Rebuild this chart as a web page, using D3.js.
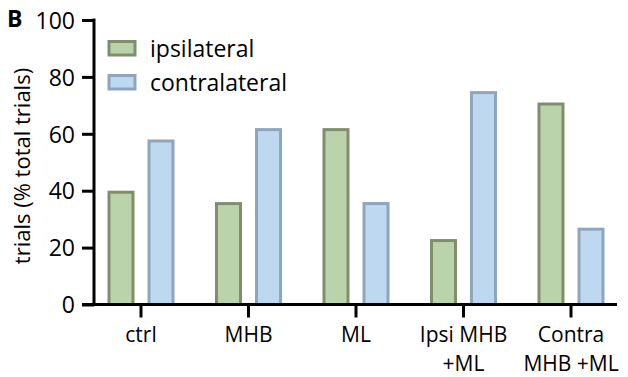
<!DOCTYPE html>
<html>
<head>
<meta charset="utf-8">
<script src="https://d3js.org/d3.v7.min.js"></script>
<style>
  body { margin: 0; background: #fff; }
  svg text { font-family: "Open Sans", sans-serif; fill: #000; }
</style>
</head>
<body>
<div id="chart"></div>
<script>
// data
var categories = ["ctrl", "MHB", "ML", "Ipsi MHB\n+ML", "Contra\nMHB +ML"];
var ipsilateral = [40, 36, 62, 23, 71];
var contralateral = [58, 62, 36, 75, 27];
var seriesNames = ["ipsilateral", "contralateral"];
var yTicks = [0, 20, 40, 60, 80, 100];

var width = 628, height = 377;
var fontSize = "23px";
var fills = ["#bad3aa", "#bed8ef"];
var strokes = ["#7f8f6e", "#8ea5bf"];

var svg = d3.select("#chart").append("svg")
	.attr("width", width)
	.attr("height", height);

var x = d3.scaleBand().domain(categories).range([87.25, 624.75]);
var sub = d3.scaleBand().domain(seriesNames).range([0, x.bandwidth()]).paddingInner(0.325).paddingOuter(0.506);
var y = d3.scaleLinear().domain([0, 100]).range([304.5, 20]);

var rows = categories.map(function(c, i){
	return {cat: c, vals: [ipsilateral[i], contralateral[i]]};
});

// bars
var groups = svg.selectAll(".grp").data(rows).enter()
	.append("g")
	.attr("class", "grp")
	.attr("transform", function(d){ return "translate(" + x(d.cat) + ",0)"; });

groups.selectAll("rect")
	.data(function(d){ return d.vals.map(function(v, j){ return {name: seriesNames[j], v: v, j: j}; }); })
	.enter().append("rect")
	.attr("x", function(d){ return sub(d.name) + 1.5; })
	.attr("width", sub.bandwidth() - 3)
	.attr("y", function(d){ return y(d.v) + 1.5; })
	.attr("height", function(d){ return y(0) - y(d.v) - 1.5; })
	.style("fill", function(d){ return fills[d.j]; })
	.style("stroke", function(d){ return strokes[d.j]; })
	.style("stroke-width", 3);

// y axis
var yAxis = svg.append("g")
	.attr("transform", "translate(94,0)")
	.call(d3.axisLeft(y).tickValues(yTicks).tickSize(12).tickPadding(7));
yAxis.select(".domain").attr("d", "M0," + (y(100) - 1.5) + "V" + y(0)).style("stroke-width", 3);
yAxis.selectAll(".tick line").style("stroke-width", 3);
yAxis.selectAll(".tick text").style("font-size", fontSize).attr("dy", "0.36em");

// x axis
var xAxis = svg.append("g")
	.attr("transform", "translate(0," + y(0) + ")")
	.call(d3.axisBottom(x).tickSize(13).tickFormat(""));
xAxis.select(".domain").attr("d", "M82,0H617").style("stroke-width", 3);
xAxis.selectAll(".tick line").style("stroke-width", 3);

// two-line category labels
xAxis.selectAll(".tick").each(function(d){
	var lines = d.split("\n");
	var t = d3.select(this).append("text")
		.attr("text-anchor", "middle")
		.style("font-size", "21px");
	lines.forEach(function(l, k){
		t.append("tspan").attr("x", 0).attr("y", 37 + k * 29).text(l);
	});
});

// y label
svg.append("text")
	.attr("transform", "translate(30,166) rotate(-90)")
	.attr("text-anchor", "middle")
	.style("font-size", "22px")
	.text("trials (% total trials)");

// panel letter
svg.append("text")
	.attr("x", 7).attr("y", 27)
	.style("font-size", "23px").style("font-weight", "bold")
	.text("B");

// legend
var legend = svg.selectAll(".leg").data(seriesNames).enter()
	.append("g")
	.attr("class", "leg")
	.attr("transform", function(d, i){ return "translate(109," + (41.5 + i * 34) + ")"; });
legend.append("rect")
	.attr("width", 26).attr("height", 13.5)
	.style("fill", function(d, i){ return fills[i]; })
	.style("stroke", function(d, i){ return strokes[i]; })
	.style("stroke-width", 3);
legend.append("text")
	.attr("x", 41).attr("y", 7).attr("dy", "0.35em")
	.style("font-size", fontSize)
	.text(function(d){ return d; });
</script>
</body>
</html>
